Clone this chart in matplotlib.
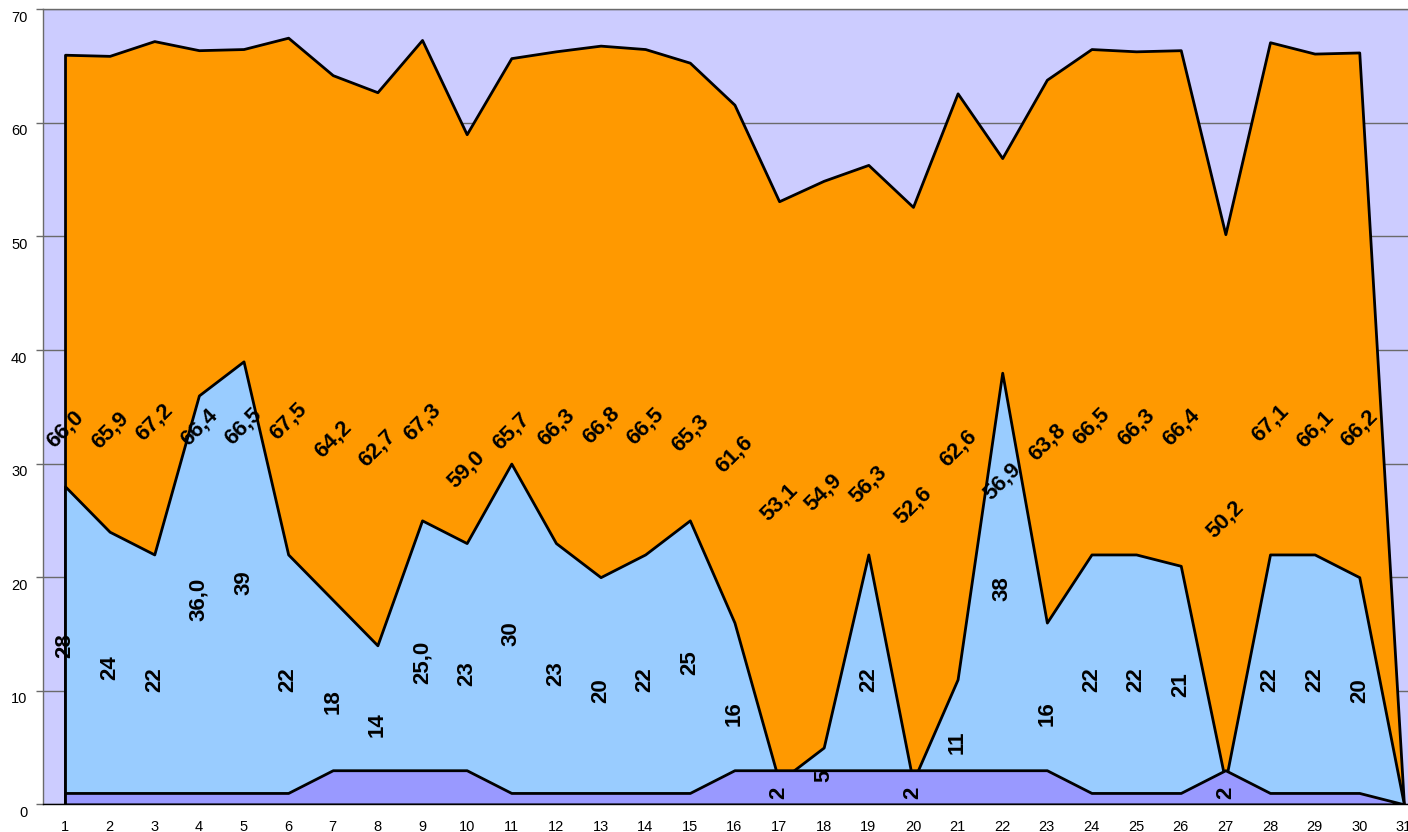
import matplotlib
matplotlib.use("Agg")
import matplotlib.pyplot as plt
import matplotlib.transforms as mtransforms

days = list(range(1, 32))
orange_vals = [66.0, 65.9, 67.2, 66.4, 66.5, 67.5, 64.2, 62.7, 67.3, 59.0, 65.7, 66.3, 66.8, 66.5, 65.3,
               61.6, 53.1, 54.9, 56.3, 52.6, 62.6, 56.9, 63.8, 66.5, 66.3, 66.4, 50.2, 67.1, 66.1, 66.2, 0]
blue_vals = [28, 24, 22, 36, 39, 22, 18, 14, 25, 23, 30, 23, 20, 22, 25,
             16, 2, 5, 22, 2, 11, 38, 16, 22, 22, 21, 2, 22, 22, 20, 0]
purple_vals = [1, 1, 1, 1, 1, 1, 3, 3, 3, 3, 1, 1, 1, 1, 1,
               3, 3, 3, 3, 3, 3, 3, 3, 1, 1, 1, 3, 1, 1, 1, 0]
orange_labels = ["66,0", "65,9", "67,2", "66,4", "66,5", "67,5", "64,2", "62,7", "67,3", "59,0",
                 "65,7", "66,3", "66,8", "66,5", "65,3", "61,6", "53,1", "54,9", "56,3", "52,6",
                 "62,6", "56,9", "63,8", "66,5", "66,3", "66,4", "50,2", "67,1", "66,1", "66,2", ""]
blue_labels = ["28", "24", "22", "36,0", "39", "22", "18", "14", "25,0", "23", "30", "23", "20", "22", "25",
               "16", "2", "5", "22", "2", "11", "38", "16", "22", "22", "21", "2", "22", "22", "20", ""]
yticks = [0, 10, 20, 30, 40, 50, 60, 70]

W, H = 1408, 832
fig = plt.figure(figsize=(W / 100, H / 100), dpi=100)
left_px, right_px, top_px, bot_px = 42.7, 1426.2, 9.3, 804.3
ax = fig.add_axes([left_px / W, (H - bot_px) / H, (right_px - left_px) / W, (bot_px - top_px) / H])
ax.set_facecolor("#CCCCFF")
ax.set_xlim(0.5, 31.5)
ax.set_ylim(0, 70)

ax.fill_between(days, 0, orange_vals, facecolor="#FF9900", edgecolor="black", linewidth=2, zorder=2)
ax.fill_between(days, 0, blue_vals, facecolor="#99CCFF", edgecolor="black", linewidth=2, zorder=3)
ax.fill_between(days, 0, purple_vals, facecolor="#9999FF", edgecolor="black", linewidth=2, zorder=4)

font = ["Liberation Sans", "DejaVu Sans"]
for x, v, s in zip(days, orange_vals, orange_labels):
    if s:
        ax.text(x, v / 2, s, rotation=45, ha="center", va="center", fontsize=16,
                fontweight="bold", family=font, zorder=6, rotation_mode="anchor")
for x, v, s in zip(days, blue_vals, blue_labels):
    if s:
        ax.text(x, v / 2, s, rotation=90, ha="center", va="center", fontsize=16,
                fontweight="bold", family=font, zorder=6, rotation_mode="anchor")

ax.set_yticks(yticks)
ax.set_yticklabels([str(t) for t in yticks], family=font, fontsize=10.5)
ax.yaxis.grid(True, color="#6a6a6a", linewidth=1)
ax.set_axisbelow(True)
ax.tick_params(axis="y", length=5, width=1, color="#6a6a6a", pad=6)
offset = mtransforms.ScaledTranslation(0, -7 / 100, fig.dpi_scale_trans)
for lab in ax.get_yticklabels():
    lab.set_transform(lab.get_transform() + offset)

ax.set_xticks(days)
ax.set_xticklabels([str(d) for d in days], family=font, fontsize=10.5)
ax.tick_params(axis="x", length=0, pad=11)

for side in ["left", "top"]:
    ax.spines[side].set_color("#6a6a6a")
    ax.spines[side].set_linewidth(1)
ax.spines["right"].set_visible(False)
ax.spines["bottom"].set_color("black")
ax.spines["bottom"].set_linewidth(1)

fig.savefig("out.png", dpi=100)
